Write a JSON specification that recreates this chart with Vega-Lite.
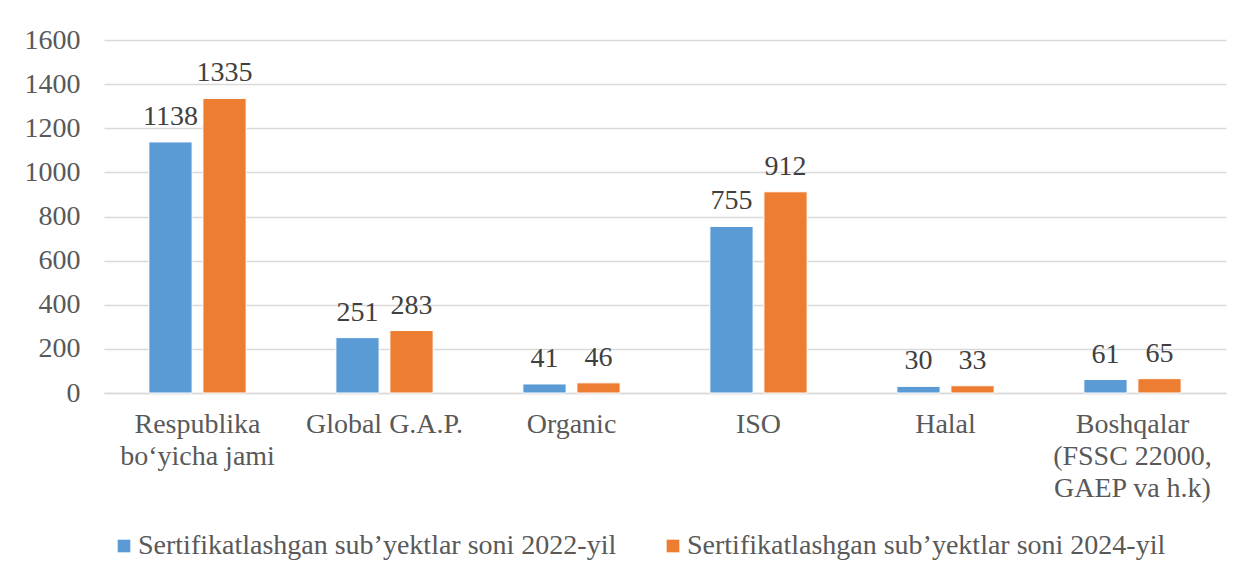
{
  "$schema": "https://vega.github.io/schema/vega-lite/v6.json",
  "width": 1122,
  "height": 353,
  "autosize": {"type": "none"},
  "padding": {"left": 104, "top": 40, "right": 23, "bottom": 187},
  "background": "white",
  "config": {
    "font": "Liberation Serif",
    "view": {"stroke": null},
    "axis": {"labelFont": "Liberation Serif", "labelFontSize": 28, "labelColor": "#595959"},
    "legend": {"labelFont": "Liberation Serif", "labelFontSize": 28, "labelColor": "#595959"}
  },
  "data": {
    "values": [
      {"category": "Respublika bo‘yicha jami", "series": "Sertifikatlashgan sub’yektlar soni 2022-yil", "value": 1138},
      {"category": "Respublika bo‘yicha jami", "series": "Sertifikatlashgan sub’yektlar soni 2024-yil", "value": 1335},
      {"category": "Global G.A.P.", "series": "Sertifikatlashgan sub’yektlar soni 2022-yil", "value": 251},
      {"category": "Global G.A.P.", "series": "Sertifikatlashgan sub’yektlar soni 2024-yil", "value": 283},
      {"category": "Organic", "series": "Sertifikatlashgan sub’yektlar soni 2022-yil", "value": 41},
      {"category": "Organic", "series": "Sertifikatlashgan sub’yektlar soni 2024-yil", "value": 46},
      {"category": "ISO", "series": "Sertifikatlashgan sub’yektlar soni 2022-yil", "value": 755},
      {"category": "ISO", "series": "Sertifikatlashgan sub’yektlar soni 2024-yil", "value": 912},
      {"category": "Halal", "series": "Sertifikatlashgan sub’yektlar soni 2022-yil", "value": 30},
      {"category": "Halal", "series": "Sertifikatlashgan sub’yektlar soni 2024-yil", "value": 33},
      {"category": "Boshqalar (FSSC 22000, GAEP va h.k)", "series": "Sertifikatlashgan sub’yektlar soni 2022-yil", "value": 61},
      {"category": "Boshqalar (FSSC 22000, GAEP va h.k)", "series": "Sertifikatlashgan sub’yektlar soni 2024-yil", "value": 65}
    ]
  },
  "encoding": {
    "x": {
      "field": "category",
      "type": "nominal",
      "sort": null,
      "title": null,
      "scale": {"paddingInner": 0.48, "paddingOuter": 0.24},
      "axis": {
        "labelAngle": 0,
        "ticks": false,
        "domainColor": "#d9d9d9",
        "domainWidth": 1.5,
        "labelPadding": 17,
        "labelBaseline": "top",
        "labelLineHeight": 32,
        "labelExpr": "datum.label == 'Respublika bo‘yicha jami' ? ['Respublika', 'bo‘yicha jami'] : datum.label == 'Boshqalar (FSSC 22000, GAEP va h.k)' ? ['Boshqalar', '(FSSC 22000,', 'GAEP va h.k)'] : datum.label"
      }
    },
    "xOffset": {
      "field": "series",
      "type": "nominal",
      "scale": {"paddingInner": 0.2, "paddingOuter": 0}
    },
    "y": {
      "field": "value",
      "type": "quantitative",
      "title": null,
      "scale": {"domain": [0, 1600]},
      "axis": {
        "values": [0, 200, 400, 600, 800, 1000, 1200, 1400, 1600],
        "format": "d",
        "domain": false,
        "ticks": false,
        "gridColor": "#d9d9d9",
        "gridWidth": 1.5,
        "labelPadding": 24
      }
    }
  },
  "layer": [
    {
      "mark": {"type": "bar", "stroke": "white", "strokeWidth": 1},
      "encoding": {
        "color": {
          "field": "series",
          "type": "nominal",
          "title": null,
          "scale": {"range": ["#5B9BD5", "#ED7D31"]},
          "legend": {
            "orient": "none",
            "direction": "horizontal",
            "legendX": 6,
            "legendY": 492,
            "symbolType": "square",
            "symbolSize": 160,
            "symbolStrokeWidth": 0,
            "columnPadding": 42,
            "labelOffset": 0,
            "labelLimit": 600
          }
        }
      }
    },
    {
      "mark": {"type": "text", "baseline": "alphabetic", "dy": -17, "fontSize": 28, "color": "#404040", "font": "Liberation Serif"},
      "encoding": {
        "text": {"field": "value", "type": "quantitative"}
      }
    }
  ]
}
